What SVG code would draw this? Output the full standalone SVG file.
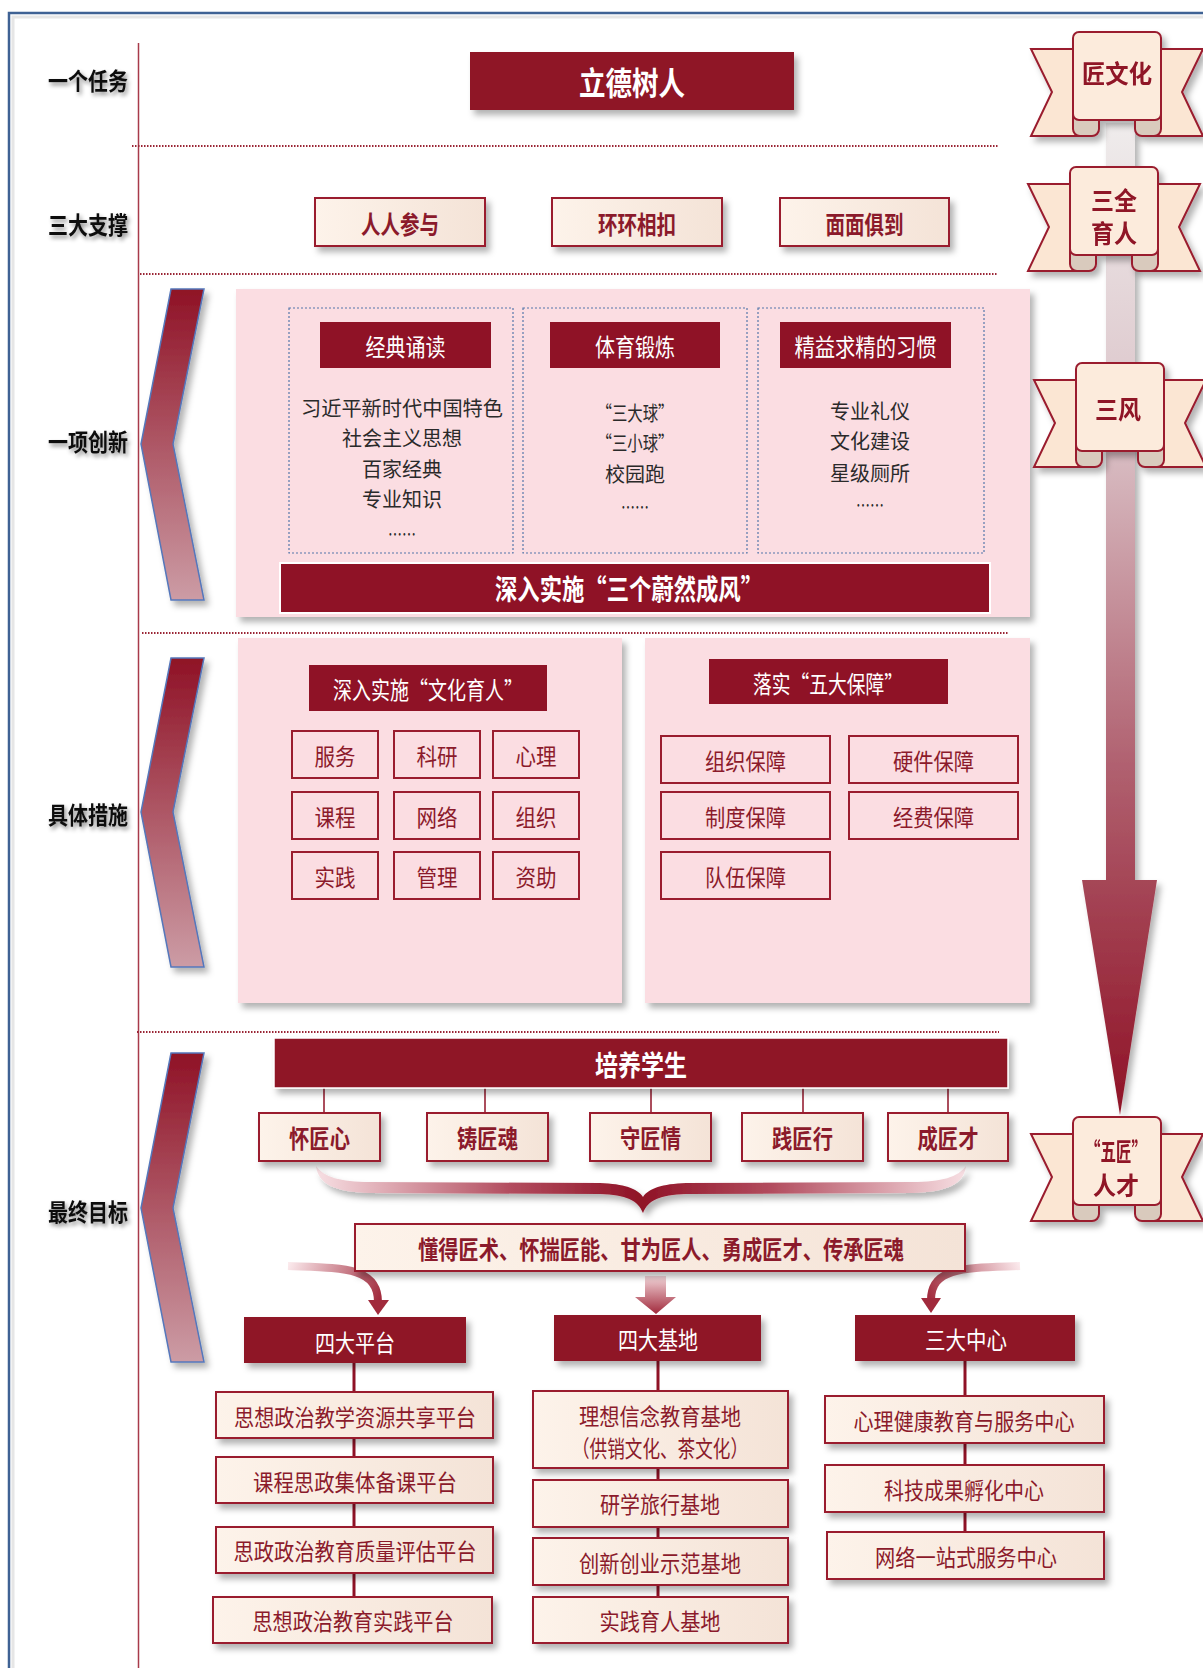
<svg xmlns="http://www.w3.org/2000/svg" width="1203" height="1668" viewBox="0 0 1203 1668">
<style>
text{font-family:"Noto Sans CJK SC","Noto Sans CJK JP",sans-serif;text-anchor:middle;dominant-baseline:central}
.lbl{font-size:24px;font-weight:700;fill:#111}
.dk{fill:#8f1226}
.wt{fill:#fff;font-size:24px}
.wtb{fill:#fff;font-weight:700}
.cr{fill:url(#cream);stroke:#9a1c2e;stroke-width:2}
.crt{fill:#8b1a2b;font-size:25px;font-weight:700}
.pk{fill:#fbdde2}
.gb{fill:none;stroke:#9a1c2e;stroke-width:2}
.rt{fill:#8b1a2b;font-size:23px}
.bt{fill:#2a2a2a;font-size:20px}
.dot{stroke:#9a2535;stroke-width:2;stroke-dasharray:1.5 1.5}
.dbx{fill:none;stroke:#5577aa;stroke-width:1.2;stroke-dasharray:2 2}
.cl{stroke:#8f1226;stroke-width:3}
.rbt{fill:#8f1226;font-size:25px;font-weight:700}
</style>
<defs>
<filter id="sh" x="-10%" y="-10%" width="130%" height="140%"><feDropShadow dx="4" dy="5" stdDeviation="3" flood-color="#000" flood-opacity="0.3"/></filter>
<filter id="tsh" x="-20%" y="-30%" width="150%" height="180%"><feDropShadow dx="2" dy="3" stdDeviation="2" flood-color="#000" flood-opacity="0.45"/></filter>
<linearGradient id="cream" x1="0" y1="0" x2="1" y2="0"><stop offset="0" stop-color="#fdf3ea"/><stop offset="1" stop-color="#f4e3d7"/></linearGradient>
<linearGradient id="chev" x1="0" y1="0" x2="0" y2="1"><stop offset="0" stop-color="#8f1226"/><stop offset="1" stop-color="#cc9ca5"/></linearGradient>
<linearGradient id="shaft" gradientUnits="userSpaceOnUse" x1="0" y1="123" x2="0" y2="1115"><stop offset="0" stop-color="#efecec"/><stop offset="0.3" stop-color="#dcc5ca"/><stop offset="0.65" stop-color="#b0606f"/><stop offset="1" stop-color="#8f1226"/></linearGradient>
<linearGradient id="brace" gradientUnits="userSpaceOnUse" x1="316" y1="0" x2="966" y2="0"><stop offset="0" stop-color="#f7dfe3"/><stop offset="0.3" stop-color="#b24c5e"/><stop offset="0.5" stop-color="#8f1226"/><stop offset="0.7" stop-color="#b24c5e"/><stop offset="1" stop-color="#f7dfe3"/></linearGradient>
<linearGradient id="arrL" gradientUnits="userSpaceOnUse" x1="288" y1="1266" x2="378" y2="1305"><stop offset="0" stop-color="#fbe9ec"/><stop offset="1" stop-color="#a12a3c"/></linearGradient>
<linearGradient id="arrR" gradientUnits="userSpaceOnUse" x1="1020" y1="1266" x2="931" y2="1305"><stop offset="0" stop-color="#fbe9ec"/><stop offset="1" stop-color="#a12a3c"/></linearGradient>
<linearGradient id="arrM" x1="0" y1="0" x2="0" y2="1"><stop offset="0" stop-color="#f3d6da"/><stop offset="1" stop-color="#a12a3c"/></linearGradient>
<g id="ribbon">
<polygon points="-42,17 14,17 14,104 -42,104 -21,60" fill="#fbe6d3" stroke="#9a1c2e" stroke-width="2"/>
<polygon points="130,17 74,17 74,104 130,104 109,60" fill="#fbe6d3" stroke="#9a1c2e" stroke-width="2"/>
<rect x="0" y="76" width="26" height="28" rx="7" fill="#d9cabd" stroke="#9a1c2e" stroke-width="2"/>
<rect x="62" y="76" width="26" height="28" rx="7" fill="#d9cabd" stroke="#9a1c2e" stroke-width="2"/>
<rect x="0" y="0" width="88" height="88" rx="6" fill="#fcebdc" stroke="#9a1c2e" stroke-width="2"/>
</g>
</defs>
<rect width="1203" height="1668" fill="#fff"/>
<g id="frame">
<path d="M9,1668 V13 H1203" fill="none" stroke="#3f6294" stroke-width="2.5"/>
<path d="M13,1668 V17 H1203" fill="none" stroke="#e6e6e6" stroke-width="3"/>
<line x1="138.5" y1="43" x2="138.5" y2="1668" stroke="#a83a4a" stroke-width="1.5"/>
<line class="dot" x1="132" y1="146" x2="998" y2="146"/>
<line class="dot" x1="140" y1="274" x2="998" y2="274"/>
<line class="dot" x1="142" y1="633" x2="1009" y2="633"/>
<line class="dot" x1="137" y1="1032" x2="999" y2="1032"/>
</g>
<g id="big-arrow" filter="url(#sh)">
<rect x="1106" y="123" width="29" height="760" fill="url(#shaft)"/>
<polygon points="1082,880 1157,880 1120,1115" fill="url(#shaft)"/>
</g>
<g id="labels" class="lbl" filter="url(#tsh)">
<text x="88" y="79" textLength="80" lengthAdjust="spacingAndGlyphs">一个任务</text>
<text x="88" y="223" textLength="80" lengthAdjust="spacingAndGlyphs">三大支撑</text>
<text x="88" y="440" textLength="80" lengthAdjust="spacingAndGlyphs">一项创新</text>
<text x="88" y="813" textLength="80" lengthAdjust="spacingAndGlyphs">具体措施</text>
<text x="88" y="1210" textLength="80" lengthAdjust="spacingAndGlyphs">最终目标</text>
</g>
<g id="chevrons" fill="url(#chev)" stroke="#5577bb" stroke-width="1.5" filter="url(#sh)">
<polygon points="171,289 204,289 173,444 204,600 171,600 141,444"/>
<polygon points="171,658 204,658 173,812 204,967 171,967 141,812"/>
<polygon points="171,1053 204,1053 173,1208 204,1362 171,1362 141,1208"/>
</g>
<g id="n-lideshuren">
<rect x="470" y="52" width="324" height="58" class="dk" filter="url(#sh)"/>
<text x="632" y="81" class="wtb" font-size="32" textLength="106" lengthAdjust="spacingAndGlyphs">立德树人</text>
</g>
<g id="n-renren"><rect x="315" y="198" width="170" height="48" class="cr" filter="url(#sh)"/><text x="400" y="223" class="crt" textLength="78" lengthAdjust="spacingAndGlyphs">人人参与</text></g>
<g id="n-huanhuan"><rect x="552" y="198" width="170" height="48" class="cr" filter="url(#sh)"/><text x="637" y="223" class="crt" textLength="78" lengthAdjust="spacingAndGlyphs">环环相扣</text></g>
<g id="n-mianmian"><rect x="780" y="198" width="169" height="48" class="cr" filter="url(#sh)"/><text x="864.5" y="223" class="crt" textLength="78" lengthAdjust="spacingAndGlyphs">面面俱到</text></g>
<g id="n-innovation">
<rect x="236" y="289" width="794" height="328" class="pk" filter="url(#sh)"/>
<rect x="289" y="308" width="224" height="245" class="dbx"/>
<rect x="523" y="308" width="224" height="245" class="dbx"/>
<rect x="758" y="308" width="226" height="245" class="dbx"/>
<rect x="320" y="322" width="171" height="46" class="dk"/>
<text x="405.5" y="345" class="wt" textLength="80" lengthAdjust="spacingAndGlyphs">经典诵读</text>
<rect x="550" y="322" width="170" height="46" class="dk"/>
<text x="635" y="345" class="wt" textLength="80" lengthAdjust="spacingAndGlyphs">体育锻炼</text>
<rect x="780" y="322" width="171" height="46" class="dk"/>
<text x="865.5" y="345" class="wt" textLength="142" lengthAdjust="spacingAndGlyphs">精益求精的习惯</text>
<text x="402" y="407" class="bt" textLength="202" lengthAdjust="spacingAndGlyphs">习近平新时代中国特色</text>
<text x="402" y="437" class="bt" textLength="120" lengthAdjust="spacingAndGlyphs">社会主义思想</text>
<text x="402" y="468" class="bt" textLength="80" lengthAdjust="spacingAndGlyphs">百家经典</text>
<text x="402" y="498" class="bt" textLength="80" lengthAdjust="spacingAndGlyphs">专业知识</text>
<text x="402" y="533" class="bt" font-size="16" textLength="28" lengthAdjust="spacingAndGlyphs">……</text>
<text x="635" y="412" class="bt" textLength="77" lengthAdjust="spacingAndGlyphs">“三大球”</text>
<text x="635" y="442" class="bt" textLength="77" lengthAdjust="spacingAndGlyphs">“三小球”</text>
<text x="635" y="473" class="bt" textLength="60" lengthAdjust="spacingAndGlyphs">校园跑</text>
<text x="635" y="506" class="bt" font-size="16" textLength="28" lengthAdjust="spacingAndGlyphs">……</text>
<text x="870" y="410" class="bt" textLength="80" lengthAdjust="spacingAndGlyphs">专业礼仪</text>
<text x="870" y="440" class="bt" textLength="80" lengthAdjust="spacingAndGlyphs">文化建设</text>
<text x="870" y="472" class="bt" textLength="80" lengthAdjust="spacingAndGlyphs">星级厕所</text>
<text x="870" y="504" class="bt" font-size="16" textLength="28" lengthAdjust="spacingAndGlyphs">……</text>
<rect x="280" y="563" width="710" height="50" class="dk" stroke="#fff" stroke-width="2"/>
<text x="629" y="588" class="wtb" font-size="28" textLength="268" lengthAdjust="spacingAndGlyphs">深入实施“三个蔚然成风”</text>
</g>
<g id="n-culture">
<rect x="238" y="638" width="384" height="365" class="pk" filter="url(#sh)"/>
<rect x="309" y="665" width="238" height="46" class="dk"/>
<text x="428" y="688" class="wt" textLength="190" lengthAdjust="spacingAndGlyphs">深入实施“文化育人”</text>
<rect x="292" y="731" width="86" height="47" class="gb"/><text x="335" y="754.5" class="rt" textLength="41" lengthAdjust="spacingAndGlyphs">服务</text>
<rect x="394" y="731" width="86" height="47" class="gb"/><text x="437" y="754.5" class="rt" textLength="41" lengthAdjust="spacingAndGlyphs">科研</text>
<rect x="493" y="731" width="86" height="47" class="gb"/><text x="536" y="754.5" class="rt" textLength="41" lengthAdjust="spacingAndGlyphs">心理</text>
<rect x="292" y="792" width="86" height="47" class="gb"/><text x="335" y="815.5" class="rt" textLength="41" lengthAdjust="spacingAndGlyphs">课程</text>
<rect x="394" y="792" width="86" height="47" class="gb"/><text x="437" y="815.5" class="rt" textLength="41" lengthAdjust="spacingAndGlyphs">网络</text>
<rect x="493" y="792" width="86" height="47" class="gb"/><text x="536" y="815.5" class="rt" textLength="41" lengthAdjust="spacingAndGlyphs">组织</text>
<rect x="292" y="852" width="86" height="47" class="gb"/><text x="335" y="875.5" class="rt" textLength="41" lengthAdjust="spacingAndGlyphs">实践</text>
<rect x="394" y="852" width="86" height="47" class="gb"/><text x="437" y="875.5" class="rt" textLength="41" lengthAdjust="spacingAndGlyphs">管理</text>
<rect x="493" y="852" width="86" height="47" class="gb"/><text x="536" y="875.5" class="rt" textLength="41" lengthAdjust="spacingAndGlyphs">资助</text>
</g>
<g id="n-guarantee">
<rect x="645" y="638" width="385" height="365" class="pk" filter="url(#sh)"/>
<rect x="709" y="659" width="239" height="45" class="dk"/>
<text x="828" y="682" class="wt" textLength="150" lengthAdjust="spacingAndGlyphs">落实“五大保障”</text>
<rect x="661" y="736" width="169" height="47" class="gb"/><text x="745.5" y="759.5" class="rt" textLength="81" lengthAdjust="spacingAndGlyphs">组织保障</text>
<rect x="849" y="736" width="169" height="47" class="gb"/><text x="933.5" y="759.5" class="rt" textLength="81" lengthAdjust="spacingAndGlyphs">硬件保障</text>
<rect x="661" y="792" width="169" height="47" class="gb"/><text x="745.5" y="815.5" class="rt" textLength="81" lengthAdjust="spacingAndGlyphs">制度保障</text>
<rect x="849" y="792" width="169" height="47" class="gb"/><text x="933.5" y="815.5" class="rt" textLength="81" lengthAdjust="spacingAndGlyphs">经费保障</text>
<rect x="661" y="852" width="169" height="47" class="gb"/><text x="745.5" y="875.5" class="rt" textLength="81" lengthAdjust="spacingAndGlyphs">队伍保障</text>
</g>
<g id="connectors">
<g stroke="#8f1226" stroke-width="1.5">
<line x1="324" y1="1088" x2="324" y2="1113"/>
<line x1="485" y1="1088" x2="485" y2="1113"/>
<line x1="651" y1="1088" x2="651" y2="1113"/>
<line x1="803" y1="1088" x2="803" y2="1113"/>
<line x1="948" y1="1088" x2="948" y2="1113"/>
</g>
<path d="M316,1166 C318,1184 335,1192 370,1193 L600,1194 C626,1195 638,1200 643,1213 C648,1200 660,1195 686,1194 L912,1193 C947,1192 964,1184 966,1166 C958,1177 942,1182 912,1182 L686,1183 C662,1184 649,1188 643,1197 C637,1188 624,1184 600,1183 L370,1182 C340,1182 324,1177 316,1166 Z" fill="url(#brace)" filter="url(#sh)"/>
<path d="M288,1266 C340,1268 378,1266 378,1302" fill="none" stroke="url(#arrL)" stroke-width="8"/>
<polygon points="368,1300 389,1300 378,1315" fill="#a12a3c"/>
<path d="M1020,1266 C968,1268 931,1266 931,1300" fill="none" stroke="url(#arrR)" stroke-width="8"/>
<polygon points="921,1298 941,1298 931,1313" fill="#a12a3c"/>
<polygon points="645,1276 666,1276 666,1297 676,1297 656,1314 635,1297 645,1297" fill="url(#arrM)"/>
<line class="cl" x1="354" y1="1363" x2="354" y2="1597"/>
<line class="cl" x1="658" y1="1361" x2="658" y2="1597"/>
<line class="cl" x1="965" y1="1361" x2="965" y2="1532"/>
</g>
<g id="n-peiyang">
<rect x="274" y="1038" width="734" height="50" class="dk" stroke="#fff" stroke-width="1.5" filter="url(#sh)"/>
<text x="641" y="1064" class="wtb" font-size="28" textLength="92" lengthAdjust="spacingAndGlyphs">培养学生</text>
</g>
<g id="n-five">
<rect x="259" y="1113" width="121" height="48" class="cr" filter="url(#sh)"/><text x="319.5" y="1137" class="crt" textLength="61" lengthAdjust="spacingAndGlyphs">怀匠心</text>
<rect x="427" y="1113" width="121" height="48" class="cr" filter="url(#sh)"/><text x="487.5" y="1137" class="crt" textLength="61" lengthAdjust="spacingAndGlyphs">铸匠魂</text>
<rect x="590" y="1113" width="121" height="48" class="cr" filter="url(#sh)"/><text x="650.5" y="1137" class="crt" textLength="61" lengthAdjust="spacingAndGlyphs">守匠情</text>
<rect x="742" y="1113" width="121" height="48" class="cr" filter="url(#sh)"/><text x="802.5" y="1137" class="crt" textLength="61" lengthAdjust="spacingAndGlyphs">践匠行</text>
<rect x="888" y="1113" width="120" height="48" class="cr" filter="url(#sh)"/><text x="948" y="1137" class="crt" textLength="61" lengthAdjust="spacingAndGlyphs">成匠才</text>
</g>
<g id="n-dongde">
<rect x="355" y="1224" width="610" height="47" class="cr" filter="url(#sh)"/>
<text x="661" y="1248" class="crt" textLength="486" lengthAdjust="spacingAndGlyphs">懂得匠术、怀揣匠能、甘为匠人、勇成匠才、传承匠魂</text>
</g>
<g id="n-platform">
<rect x="244" y="1317" width="222" height="46" class="dk" filter="url(#sh)"/>
<text x="355" y="1341" class="wt" textLength="80" lengthAdjust="spacingAndGlyphs">四大平台</text>
<rect x="216" y="1392" width="277" height="46" class="cr" filter="url(#sh)"/><text x="355" y="1416" class="rt" textLength="242" lengthAdjust="spacingAndGlyphs">思想政治教学资源共享平台</text>
<rect x="216" y="1457" width="277" height="46" class="cr" filter="url(#sh)"/><text x="355" y="1481" class="rt" textLength="204" lengthAdjust="spacingAndGlyphs">课程思政集体备课平台</text>
<rect x="216" y="1527" width="277" height="46" class="cr" filter="url(#sh)"/><text x="355" y="1550" class="rt" textLength="243" lengthAdjust="spacingAndGlyphs">思政政治教育质量评估平台</text>
<rect x="213" y="1597" width="279" height="46" class="cr" filter="url(#sh)"/><text x="353" y="1620" class="rt" textLength="201" lengthAdjust="spacingAndGlyphs">思想政治教育实践平台</text>
</g>
<g id="n-base">
<rect x="554" y="1315" width="207" height="46" class="dk" filter="url(#sh)"/>
<text x="658" y="1338" class="wt" textLength="80" lengthAdjust="spacingAndGlyphs">四大基地</text>
<rect x="533" y="1391" width="255" height="77" class="cr" filter="url(#sh)"/>
<text x="660" y="1415" class="rt" font-size="20" textLength="162" lengthAdjust="spacingAndGlyphs">理想信念教育基地</text>
<text x="660" y="1447" class="rt" font-size="20" textLength="176" lengthAdjust="spacingAndGlyphs">（供销文化、茶文化）</text>
<rect x="533" y="1480" width="255" height="47" class="cr" filter="url(#sh)"/><text x="660" y="1503" class="rt" textLength="120" lengthAdjust="spacingAndGlyphs">研学旅行基地</text>
<rect x="533" y="1538" width="255" height="47" class="cr" filter="url(#sh)"/><text x="660" y="1562" class="rt" textLength="162" lengthAdjust="spacingAndGlyphs">创新创业示范基地</text>
<rect x="533" y="1597" width="255" height="46" class="cr" filter="url(#sh)"/><text x="660" y="1620" class="rt" textLength="121" lengthAdjust="spacingAndGlyphs">实践育人基地</text>
</g>
<g id="n-center">
<rect x="855" y="1315" width="220" height="46" class="dk" filter="url(#sh)"/>
<text x="966" y="1338" class="wt" textLength="82" lengthAdjust="spacingAndGlyphs">三大中心</text>
<rect x="825" y="1396" width="279" height="47" class="cr" filter="url(#sh)"/><text x="964" y="1420" class="rt" textLength="221" lengthAdjust="spacingAndGlyphs">心理健康教育与服务中心</text>
<rect x="825" y="1465" width="279" height="47" class="cr" filter="url(#sh)"/><text x="964" y="1489" class="rt" textLength="160" lengthAdjust="spacingAndGlyphs">科技成果孵化中心</text>
<rect x="827" y="1532" width="277" height="47" class="cr" filter="url(#sh)"/><text x="966" y="1556" class="rt" textLength="182" lengthAdjust="spacingAndGlyphs">网络一站式服务中心</text>
</g>
<g id="r-jiangwenhua" filter="url(#sh)">
<use href="#ribbon" transform="translate(1073,32)"/>
<text x="1117" y="72" class="rbt" textLength="70" lengthAdjust="spacingAndGlyphs">匠文化</text>
</g>
<g id="r-sanquan" filter="url(#sh)">
<use href="#ribbon" transform="translate(1070,167)"/>
<text x="1114" y="199" class="rbt" font-size="24" textLength="46" lengthAdjust="spacingAndGlyphs">三全</text>
<text x="1114" y="232" class="rbt" font-size="24" textLength="46" lengthAdjust="spacingAndGlyphs">育人</text>
</g>
<g id="r-sanfeng" filter="url(#sh)">
<use href="#ribbon" transform="translate(1076,363)"/>
<text x="1118" y="408" class="rbt" textLength="46" lengthAdjust="spacingAndGlyphs">三风</text>
</g>
<g id="r-wujiang" filter="url(#sh)">
<use href="#ribbon" transform="translate(1073,1117)"/>
<text x="1116" y="1150" class="rbt" font-size="24" textLength="62" lengthAdjust="spacingAndGlyphs">“五匠”</text>
<text x="1116" y="1184" class="rbt" font-size="24" textLength="46" lengthAdjust="spacingAndGlyphs">人才</text>
</g>
</svg>
